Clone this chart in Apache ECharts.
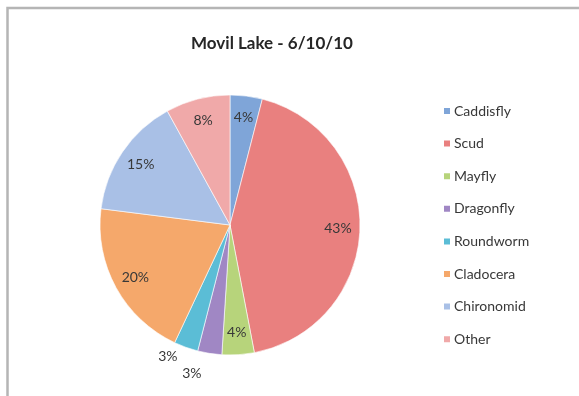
<!DOCTYPE html>
<html>
<head>
<meta charset="utf-8">
<script src="https://cdn.jsdelivr.net/npm/echarts@6/dist/echarts.min.js"></script>
<style>
  html, body { margin: 0; padding: 0; background: #ffffff; }
  #chart { width: 579px; height: 396px; }
</style>
</head>
<body>
<div id="chart"></div>
<script>
// Macroinvertebrate composition, Movil Lake sample of 6/10/10 (percent)
const categories = ['Caddisfly', 'Scud', 'Mayfly', 'Dragonfly', 'Roundworm', 'Cladocera', 'Chironomid', 'Other'];
const values = [4, 43, 4, 3, 3, 20, 15, 8];
const colors = ['#7fa5d8', '#e9807f', '#b7d47b', '#a087c4', '#5bbdd6', '#f5a86b', '#a9c0e6', '#f0a9a9'];
// Slices whose labels sit outside the pie, with the leader length used to place them
const outsideLabels = { Dragonfly: 20, Roundworm: 10 };

const FONT = 'Lato, "Liberation Sans", sans-serif';
const CENTER = [230, 225];
const R = 130;

const chart = echarts.init(document.getElementById('chart'), null, { renderer: 'canvas' });

const pieData = categories.map((name, i) => ({
  name,
  value: values[i],
  itemStyle: { color: colors[i] }
}));

const labelData = categories.map((name, i) => {
  const item = { name, value: values[i] };
  if (outsideLabels[name] !== undefined) {
    item.label = { position: 'outside' };
    item.labelLine = { show: false, length: outsideLabels[name], length2: 0 };
  }
  return item;
});

chart.setOption({
  backgroundColor: '#ffffff',
  animation: false,
  color: colors,
  title: {
    text: 'Movil Lake - 6/10/10',
    left: 267,
    top: 30,
    textAlign: 'center',
    textStyle: { fontFamily: FONT, fontSize: 17, fontWeight: 'bold', color: '#262626' }
  },
  legend: {
    orient: 'vertical',
    left: 437,
    top: 99,
    icon: 'rect',
    itemWidth: 8,
    itemHeight: 8,
    itemGap: 18.6,
    data: categories,
    textStyle: { fontFamily: FONT, fontSize: 14, color: '#383838', lineHeight: 14, padding: [0, 0, 0, -2] }
  },
  graphic: [
    {
      type: 'polyline',
      shape: { points: [[7.5, 420], [7.5, 8], [600, 8]] },
      style: { stroke: '#b5b5b5', lineWidth: 2.5, fill: null },
      silent: true
    }
  ],
  series: [
    {
      name: 'Movil Lake',
      type: 'pie',
      center: CENTER,
      radius: [0, R],
      startAngle: 90,
      clockwise: true,
      avoidLabelOverlap: false,
      label: { show: false },
      labelLine: { show: false },
      itemStyle: { borderColor: '#ffffff', borderWidth: 0.6 },
      emphasis: { disabled: true },
      data: pieData
    },
    {
      // transparent ring that carries the percentage labels at ~0.8 of the radius
      name: 'labels',
      type: 'pie',
      center: CENTER,
      radius: [80, R],
      startAngle: 90,
      clockwise: true,
      silent: true,
      avoidLabelOverlap: false,
      legendHoverLink: false,
      itemStyle: { color: 'rgba(0,0,0,0)', borderWidth: 0 },
      label: {
        show: true,
        position: 'inside',
        formatter: '{d}%',
        fontFamily: FONT,
        fontSize: 14,
        color: '#383838'
      },
      labelLine: { show: false },
      emphasis: { disabled: true },
      data: labelData
    }
  ]
});
</script>
</body>
</html>
